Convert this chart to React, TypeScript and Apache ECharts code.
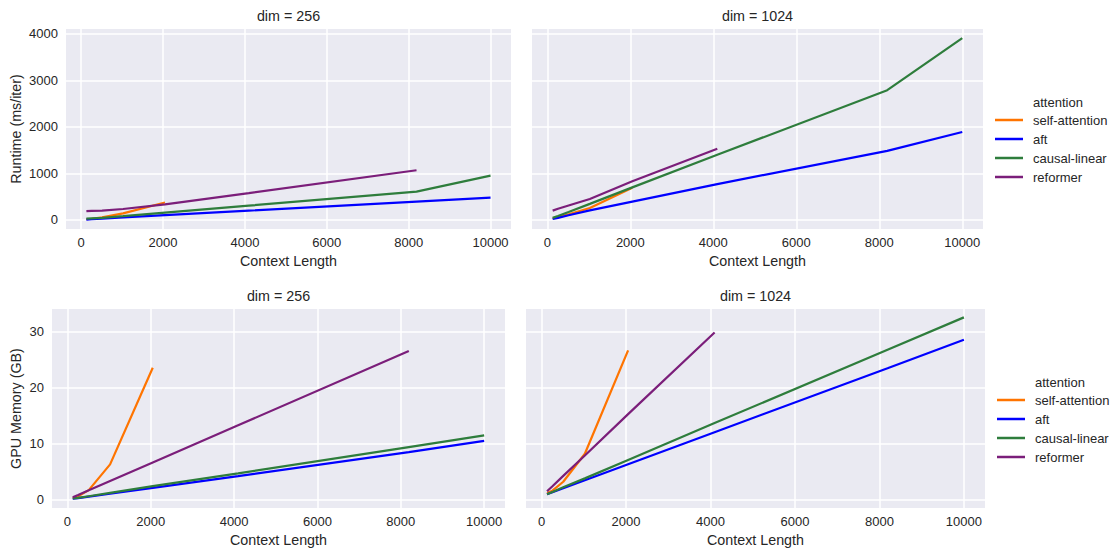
import React, { useEffect, useRef } from "react";
import * as echarts from "echarts";

const contextLengths = [128, 256, 512, 1024, 2048, 4096, 8192, 10000];
const seriesNames = ["self-attention", "aft", "causal-linear", "reformer"];
const seriesColors = ["#ff7400", "#0000ff", "#2e7d3c", "#7b1e7a"];
const dims = ["dim = 256", "dim = 1024"];

const xTicks = [0, 2000, 4000, 6000, 8000, 10000];
const runtimeTicks = [0, 1000, 2000, 3000, 4000];
const memoryTicks = [0, 10, 20, 30];

// Runtime (ms/iter), dim = 256
const rtSelf256 = [15, 25, 55, 140, 375];
const rtAft256 = [8, 15, 28, 55, 105, 200, 395, 480];
const rtLinear256 = [30, 35, 45, 80, 157, 307, 610, 953];
const rtReformer256 = [190, 195, 200, 235, 335, 575, 1068];

// Runtime (ms/iter), dim = 1024
const rtSelf1024 = [30, 60, 120, 255, 690];
const rtAft1024 = [20, 45, 100, 205, 395, 770, 1485, 1890];
const rtLinear1024 = [45, 85, 170, 345, 700, 1400, 2790, 3910];
const rtReformer1024 = [200, 240, 310, 450, 830, 1530];

// GPU Memory (GB), dim = 256
const memSelf256 = [0.25, 0.6, 1.7, 6.3, 23.6];
const memAft256 = [0.15, 0.27, 0.53, 1.05, 2.1, 4.2, 8.5, 10.5];
const memLinear256 = [0.2, 0.3, 0.6, 1.2, 2.4, 4.7, 9.4, 11.5];
const memReformer256 = [0.42, 0.83, 1.66, 3.33, 6.66, 13.3, 26.6];

// GPU Memory (GB), dim = 1024
const memSelf1024 = [1.2, 1.6, 3.2, 8.2, 26.7];
const memAft1024 = [0.95, 1.31, 2.03, 3.46, 6.33, 12.06, 23.5, 28.6];
const memLinear1024 = [0.95, 1.36, 2.2, 3.8, 7.1, 13.7, 26.8, 32.6];
const memReformer1024 = [1.5, 2.4, 4.25, 7.9, 15.3, 29.9];

const panels = [
  [rtSelf256, rtAft256, rtLinear256, rtReformer256],
  [rtSelf1024, rtAft1024, rtLinear1024, rtReformer1024],
  [memSelf256, memAft256, memLinear256, memReformer256],
  [memSelf1024, memAft1024, memLinear1024, memReformer1024],
];

const FONT = "Liberation Sans, Arial, sans-serif";
const TEXT = "#262626";

const grids = [
  { left: 66, top: 29, width: 445, height: 200 },
  { left: 532, top: 29, width: 451, height: 200 },
  { left: 52, top: 309, width: 453, height: 200 },
  { left: 526, top: 309, width: 459, height: 200 },
];

const plain = (v: number) => String(v);

function buildOption() {
  const xAxis = grids.map((_, i) => ({
    type: "value",
    gridIndex: i,
    min: -370,
    max: 10500,
    axisLine: { show: false },
    axisTick: { show: false, customValues: xTicks, interval: 0 },
    axisLabel: { customValues: xTicks, interval: 0, formatter: plain, color: TEXT, fontSize: 13, fontFamily: FONT, margin: 7 },
    splitLine: { show: true, interval: 0, lineStyle: { color: "#ffffff", width: 1.5 } },
    name: "Context Length",
    nameLocation: "middle",
    nameGap: 25,
    nameTextStyle: { color: TEXT, fontSize: 14.3, fontFamily: FONT },
  }));
  const yAxis = grids.map((_, i) => {
    const top = i < 2;
    const ticks = top ? runtimeTicks : memoryTicks;
    const leftCol = i % 2 === 0;
    return {
      type: "value",
      gridIndex: i,
      min: top ? -195 : -1.5,
      max: top ? 4105 : 34.1,
      axisLine: { show: false },
      axisTick: { show: false, customValues: ticks, interval: 0 },
      axisLabel: { show: leftCol, customValues: ticks, interval: 0, formatter: plain, color: TEXT, fontSize: 13, fontFamily: FONT, margin: 8 },
      splitLine: { show: true, interval: 0, lineStyle: { color: "#ffffff", width: 1.5 } },
      name: leftCol ? (top ? "Runtime (ms/iter)" : "GPU Memory (GB)") : "",
      nameLocation: "middle",
      nameGap: top ? 43 : 29,
      nameTextStyle: { color: TEXT, fontSize: 14.3, fontFamily: FONT },
    };
  });
  const series: any[] = [];
  panels.forEach((panel, p) => {
    panel.forEach((vals, s) => {
      series.push({
        type: "line",
        name: seriesNames[s],
        xAxisIndex: p,
        yAxisIndex: p,
        data: vals.map((v, k) => [contextLengths[k], v]),
        showSymbol: false,
        symbol: "none",
        color: seriesColors[s],
        lineStyle: { color: seriesColors[s], width: 2.2 },
        silent: true,
      });
    });
  });
  const legendBase = {
    orient: "vertical",
    data: seriesNames,
    icon: "rect",
    itemWidth: 28,
    itemHeight: 2.5,
    itemGap: 3,
    padding: 0,
    selectedMode: false,
    textStyle: { color: TEXT, fontSize: 13, fontFamily: FONT, lineHeight: 16, padding: [0, 0, 0, 5] },
  };
  const centers = [288.5, 757.5, 278.5, 755.5];
  const graphic: any[] = grids.map((g, i) => ({
    type: "text",
    x: centers[i],
    y: i < 2 ? 16 : 296,
    style: {
      text: dims[i % 2],
      fill: TEXT,
      font: `14.3px ${FONT}`,
      align: "center",
      verticalAlign: "middle",
      textAlign: "center",
      textVerticalAlign: "middle",
    },
  }));
  [
    [1033, 102],
    [1035, 382],
  ].forEach(([x, y]) => {
    graphic.push({
      type: "text",
      x,
      y,
      style: {
        text: "attention",
        fill: TEXT,
        font: `13px ${FONT}`,
        align: "left",
        verticalAlign: "middle",
        textAlign: "left",
        textVerticalAlign: "middle",
      },
    });
  });
  return {
    animation: false,
    backgroundColor: "#ffffff",
    grid: grids.map((g) => ({ ...g, show: true, backgroundColor: "#eaeaf2", borderWidth: 0, containLabel: false })),
    xAxis,
    yAxis,
    series,
    legend: [
      { ...legendBase, left: 995, top: 112 },
      { ...legendBase, left: 997, top: 392 },
    ],
    graphic,
  };
}

export default function App() {
  const ref = useRef<HTMLDivElement>(null);
  useEffect(() => {
    document.body.style.margin = "0";
    const chart = echarts.init(ref.current!, null, { renderer: "svg" });
    chart.setOption(buildOption() as any);
    return () => chart.dispose();
  }, []);
  return <div ref={ref} style={{ width: 1110, height: 548 }} />;
}
